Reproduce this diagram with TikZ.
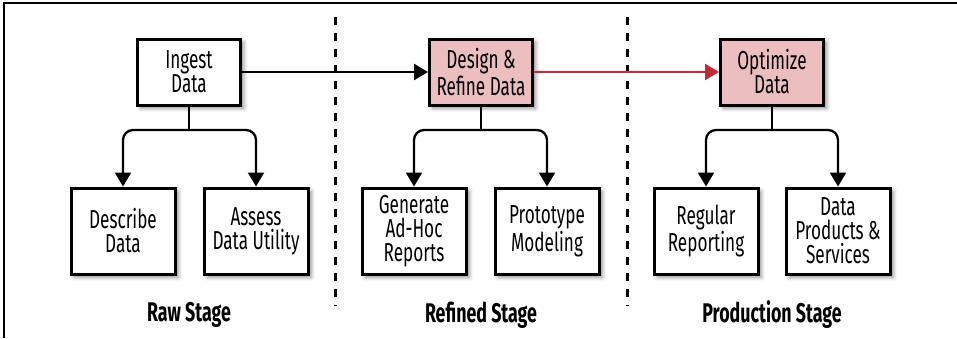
\documentclass[tikz,border=0pt]{standalone}
\usepackage{fontspec}
\setmainfont{Fira Sans}[FakeStretch=0.66]
\usetikzlibrary{arrows.meta,shadows.blur}
\definecolor{stagepink}{RGB}{236,190,192}
\definecolor{stagered}{RGB}{200,40,50}
\tikzset{
  task/.style={draw=black,line width=1.5pt,fill=white,align=center,
    minimum width=51.5pt,minimum height=33pt,inner sep=0pt,
    font=\fontsize{13}{12}\selectfont,
    blur shadow={shadow xshift=1.6pt,shadow yshift=-1.6pt,
      shadow blur radius=2pt,shadow opacity=45}},
  subtask/.style={task,minimum width=52pt,minimum height=43pt},
  hot/.style={fill=stagepink},
  link/.style={line width=1.15pt,draw=black},
  tip/.style={-{Triangle[length=7pt,width=8pt]}},
  divider/.style={line width=1.5pt,dash pattern=on 4pt off 4pt},
  stagename/.style={font=\fontsize{13.5}{13}\selectfont\bfseries}
}
\begin{document}
\begin{tikzpicture}[x=0.5pt,y=-0.5pt]
\useasboundingbox (0,0) rectangle (957,338);
\draw[line width=0.8pt] (4,338) |- (957,3);
% stage dividers
\draw[divider] (335,17) -- (335,306);
\draw[divider] (627,17) -- (627,306);
% top row
\node[task] (ingest) at (189,72) {Ingest\\Data};
\node[task,hot] (design) at (481,72) {Design \&\\Refine Data};
\node[task,hot] (optimize) at (772,72) {Optimize\\Data};
% second row
\node[subtask] (describe) at (123,231) {Describe\\Data};
\node[subtask] (assess) at (256,231) {Assess\\Data Utility};
\node[subtask] (generate) at (414,231) {Generate\\Ad-Hoc\\Reports};
\node[subtask] (proto) at (547,231) {Prototype\\Modeling};
\node[subtask] (regular) at (706,231) {Regular\\Reporting};
\node[subtask] (products) at (838,231) {Data\\Products \&\\Services};
% stage names
\node[stagename] (raw) at (189,315) {Raw Stage};
\node[stagename] (refined) at (481,315) {Refined Stage};
\node[stagename] (production) at (772,315) {Production Stage};
% flow between stages
\draw[link,tip] (ingest) -- (design);
\draw[link,tip,draw=stagered,fill=stagered] (design) -- (optimize);
\foreach \p/\a/\b in {ingest/describe/assess,design/generate/proto,optimize/regular/products} {
  \coordinate (\p fork) at (\p.south |- 0,130);
  \draw[link] (\p.south) -- (\p fork);
  \draw[link,tip,rounded corners=5pt] (\p fork) -| (\a.north);
  \draw[link,tip,rounded corners=5pt] (\p fork) -| (\b.north);
}
\end{tikzpicture}
\end{document}
